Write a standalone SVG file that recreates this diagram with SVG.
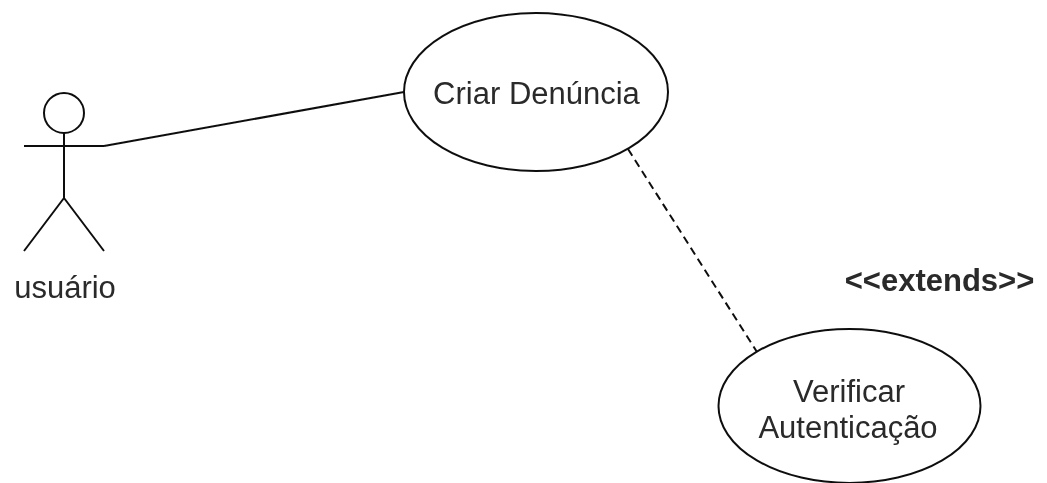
<svg xmlns="http://www.w3.org/2000/svg" width="1047" height="483" viewBox="0 0 1047 483">
<defs><filter id="b" x="-5%" y="-5%" width="110%" height="110%"><feGaussianBlur stdDeviation="0.55"/></filter></defs>
<style>
.s{fill:none;stroke:#111;stroke-width:2}
.n{fill:#fff;stroke:#111;stroke-width:2}
text{font-family:"Liberation Sans",Arial,sans-serif;font-size:31px;fill:#2a2a2a;text-anchor:middle}
</style>
<rect width="1047" height="483" fill="#fff"/>
<g filter="url(#b)">
<g id="connectors">
<path class="s" d="M104 146L404 92"/>
<path class="s" d="M628 149L757 352" stroke-dasharray="8 5"/>
</g>
<g id="actor">
<circle class="n" cx="64" cy="113" r="20"/>
<path class="s" d="M64 133V198M24 146H104M64 198L24 251M64 198L104 251"/>
<text x="65" y="298">usuário</text>
</g>
<g id="criar">
<ellipse class="n" cx="536" cy="92" rx="132" ry="79"/>
<text x="536.5" y="104">Criar Denúncia</text>
</g>
<g id="verificar">
<ellipse class="n" cx="849.500" cy="406" rx="131" ry="77"/>
<text x="849" y="402">Verificar</text>
<text x="848" y="438">Autenticação</text>
</g>
<text id="extends" x="939.500" y="291" style="font-weight:bold">&lt;&lt;extends&gt;&gt;</text>
</g>
</svg>
